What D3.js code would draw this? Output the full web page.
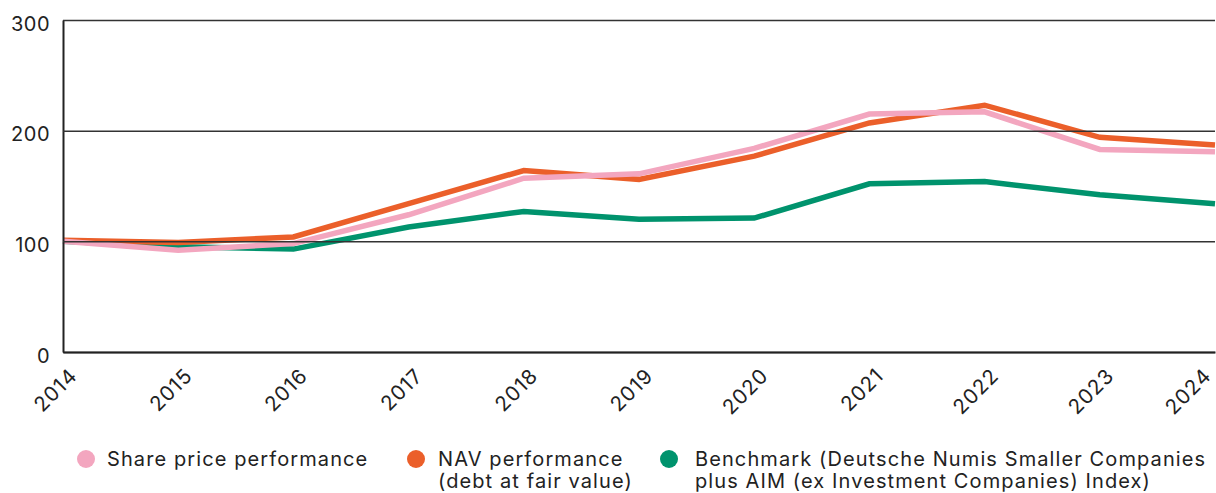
<!DOCTYPE html>
<html>
<head>
<meta charset="utf-8">
<script src="https://cdn.jsdelivr.net/npm/d3@7"></script>
<style>
  body { margin: 0; background: #fff; }
  svg text { font-family: Inter, "Noto Sans", sans-serif; fill: #222; }
</style>
</head>
<body>
<div class="chart"></div>
<script>
// data
const years = [2014, 2015, 2016, 2017, 2018, 2019, 2020, 2021, 2022, 2023, 2024];
const sharePrice = [100, 92, 98, 124, 157, 161, 184, 215, 217, 183, 181];
const navPerf = [101, 99, 104, 134, 164, 156, 177, 207, 223, 194, 187];
const benchmark = [100, 95, 93, 113, 127, 120, 121, 152, 154, 142, 134];
const yTicks = [0, 100, 200, 300];

const seriesNames = ['Share price performance', 'NAV performance', 'Benchmark'];
const legendLines = [
    ['Share price performance'],
    ['NAV performance', '(debt at fair value)'],
    ['Benchmark (Deutsche Numis Smaller Companies', 'plus AIM (ex Investment Companies) Index)']
];
const colors = ['#f3a6bf', '#eb5f2a', '#00936d'];

const width = 1216, height = 493;
const margin = {top: 20, right: 1, bottom: 141, left: 63};

const svg = d3.select('.chart').append('svg')
    .attr('width', width).attr('height', height);

const x = d3.scaleLinear().domain([2014, 2024]).range([margin.left, width - margin.right]);
const y = d3.scaleLinear().domain([0, 300]).range([height - margin.bottom, margin.top]);

const series = [
    {name: seriesNames[0], values: sharePrice, color: colors[0]},
    {name: seriesNames[1], values: navPerf, color: colors[1]},
    {name: seriesNames[2], values: benchmark, color: colors[2]}
];

const line = d3.line()
    .x((d, i) => x(years[i]))
    .y(d => y(d));

// green, orange, pink (pink on top)
[2, 1, 0].forEach(k => {
    svg.append('path')
        .datum(series[k].values)
        .attr('d', line)
        .attr('fill', 'none')
        .attr('stroke', series[k].color)
        .attr('stroke-width', 5.5)
        .attr('stroke-linejoin', 'miter');
});

// gridlines drawn over the lines
const yAxis = d3.axisLeft(y).tickValues(yTicks)
    .tickSizeInner(-(width - margin.right - margin.left))
    .tickSizeOuter(0)
    .tickPadding(13);
const yAxisDraw = svg.append('g')
    .attr('transform', `translate(${margin.left},0)`)
    .call(yAxis);
yAxisDraw.select('.domain').attr('stroke', '#222').attr('stroke-width', 2);
yAxisDraw.selectAll('.tick line').attr('stroke', '#333').attr('stroke-width', 1.5);
yAxisDraw.selectAll('.tick text')
    .attr('dy', '0.5em')
    .style('font-size', '20px')
    .style('letter-spacing', '0.5px')
    .style('fill', '#222');

const xAxis = d3.axisBottom(x).tickValues(years).tickFormat(d3.format('d'))
    .tickSize(0);
const xAxisDraw = svg.append('g')
    .attr('transform', `translate(0,${height - margin.bottom})`)
    .call(xAxis);
xAxisDraw.select('.domain').attr('stroke', '#222').attr('stroke-width', 2);
xAxisDraw.selectAll('.tick text')
    .attr('text-anchor', 'end')
    .attr('dy', 0)
    .attr('y', 0)
    .attr('transform', (d, i) => `translate(${i === years.length - 1 ? -3 : 15},25) rotate(-45)`)
    .style('font-size', '20.5px')
    .style('letter-spacing', '1px')
    .style('fill', '#222');

// legend
const legendX = [86, 416, 669];
const legendTextDx = [21, 22, 26];
const legend = svg.append('g').attr('class', 'legend');
legendLines.forEach((lines, i) => {
    const g = legend.append('g').attr('transform', `translate(${legendX[i]},0)`);
    g.append('circle').attr('cx', 0).attr('cy', 459).attr('r', 9).attr('fill', colors[i]);
    const t = g.append('text').style('font-size', '20px').style('letter-spacing', '1.1px');
    lines.forEach((s, j) => {
        t.append('tspan').attr('x', legendTextDx[i]).attr('y', 466 + j * 22).text(s);
    });
});
</script>
</body>
</html>
